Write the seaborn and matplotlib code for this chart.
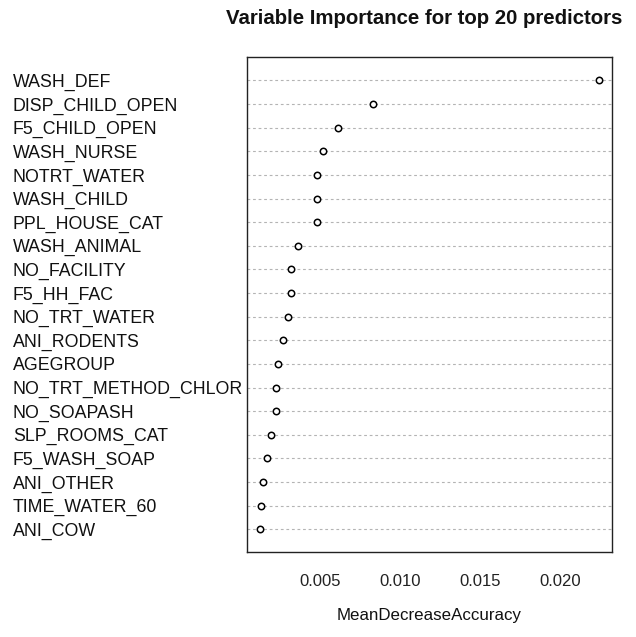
import matplotlib
matplotlib.use("Agg")
import matplotlib.pyplot as plt
import seaborn as sns
import pandas as pd

predictors = ["WASH_DEF", "DISP_CHILD_OPEN", "F5_CHILD_OPEN", "WASH_NURSE",
              "NOTRT_WATER", "WASH_CHILD", "PPL_HOUSE_CAT", "WASH_ANIMAL",
              "NO_FACILITY", "F5_HH_FAC", "NO_TRT_WATER", "ANI_RODENTS",
              "AGEGROUP", "NO_TRT_METHOD_CHLOR", "NO_SOAPASH", "SLP_ROOMS_CAT",
              "F5_WASH_SOAP", "ANI_OTHER", "TIME_WATER_60", "ANI_COW"]
importance = [0.02246, 0.00829, 0.00615, 0.00519, 0.00481, 0.00481, 0.00481,
              0.00365, 0.00319, 0.00319, 0.00302, 0.00267, 0.00240, 0.00223,
              0.00223, 0.00194, 0.00169, 0.00142, 0.00133, 0.00125]
xticks = [0.005, 0.010, 0.015, 0.020]
xtick_labels = ["0.005", "0.010", "0.015", "0.020"]

df = pd.DataFrame({"predictor": predictors, "MeanDecreaseAccuracy": importance})

sns.set_style("white")
plt.rcParams["font.family"] = ["Liberation Sans", "DejaVu Sans"]

fig = plt.figure(figsize=(6.36, 6.37), dpi=100)
ax = fig.add_axes([247/636, 1-552/637, (612-247)/636, (552-57)/637])

sns.stripplot(data=df, x="MeanDecreaseAccuracy", y="predictor", order=predictors,
              orient="h", jitter=False, ax=ax, marker="o", size=4.6,
              facecolor="white", edgecolor="black", linewidth=1.1, color="white",
              zorder=3)

ax.set_xlim(0.00044, 0.02325)
ax.set_ylim(len(predictors) - 1 + 0.96, -0.99)
ax.yaxis.grid(True, linestyle=(0, (2.5, 2.5)), color="#b4b4b4", linewidth=0.8)
ax.xaxis.grid(False)
ax.set_axisbelow(True)

ax.set_xticks(xticks)
ax.set_xticklabels(xtick_labels, fontsize=12, color="#222222")
ax.tick_params(axis="x", length=7.5, width=1.0, color="#222222", pad=8, direction="out")
ax.tick_params(axis="y", length=0, pad=168.5)
for lbl in ax.get_yticklabels():
    lbl.set_horizontalalignment("left")
    lbl.set_fontsize(12.8)
    lbl.set_color("#111111")

for s in ax.spines.values():
    s.set_visible(True)
    s.set_color("#222222")
    s.set_linewidth(1.0)

ax.set_ylabel("")
ax.set_xlabel("MeanDecreaseAccuracy", fontsize=12.2, labelpad=14, color="#111111")
fig.text(424/636, 1-18/637, "Variable Importance for top 20 predictors",
         ha="center", va="center", fontsize=14.7, fontweight="bold", color="#111111")

fig.savefig("out.png", dpi=100, facecolor="white")
